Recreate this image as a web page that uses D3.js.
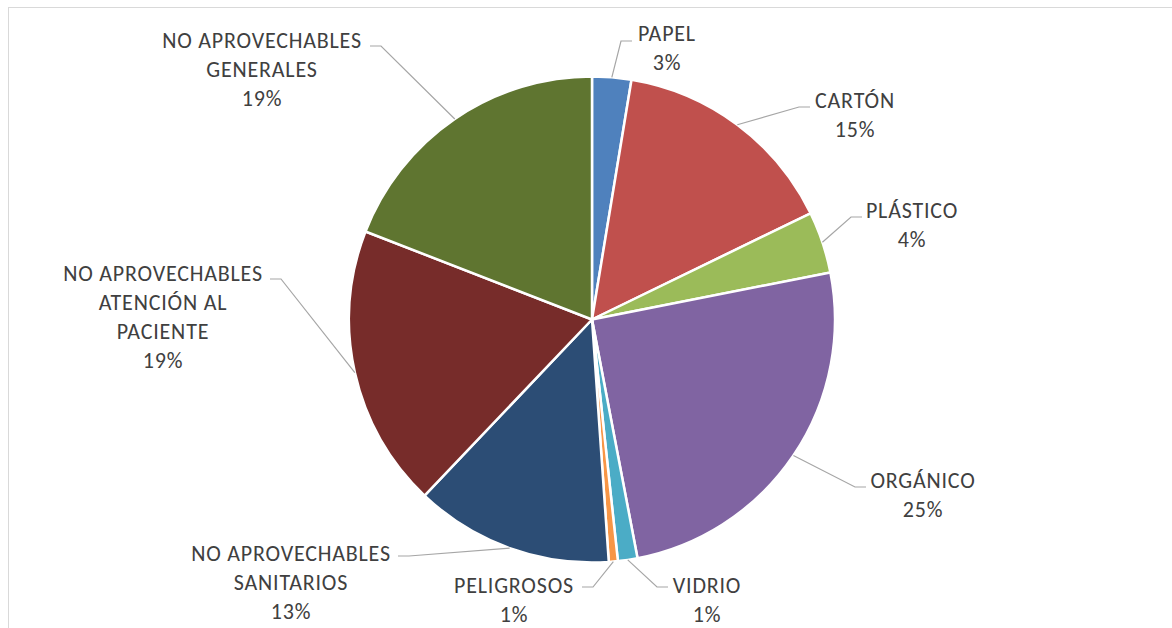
<!DOCTYPE html>
<html>
<head>
<meta charset="utf-8">
<script src="https://cdn.jsdelivr.net/npm/d3@7"></script>
<style>
  html, body { margin: 0; padding: 0; background: #fff; }
  svg { display: block; }
  text { font-family: Carlito, Calibri, Lato, sans-serif; }
</style>
</head>
<body>
<svg id="chart" width="1172" height="628"></svg>
<script>
// Waste composition (share of total, %)
const categories = [
  "PAPEL", "CARTÓN", "PLÁSTICO", "ORGÁNICO", "VIDRIO", "PELIGROSOS",
  "NO APROVECHABLES SANITARIOS",
  "NO APROVECHABLES ATENCIÓN AL PACIENTE",
  "NO APROVECHABLES GENERALES"
];
const values = [2.6, 15.2, 4.1, 25.1, 1.3, 0.6, 13.2, 18.8, 19.1];
// Wrapped label lines for each category
const labelLines = [
  ["PAPEL"], ["CARTÓN"], ["PLÁSTICO"], ["ORGÁNICO"], ["VIDRIO"], ["PELIGROSOS"],
  ["NO APROVECHABLES", "SANITARIOS"],
  ["NO APROVECHABLES", "ATENCIÓN AL", "PACIENTE"],
  ["NO APROVECHABLES", "GENERALES"]
];
const colors = ["#4F81BD", "#C0504D", "#9BBB59", "#8064A2", "#4BACC6",
                "#F79646", "#2C4D75", "#772C2A", "#5F7530"];

// Label placement: text centre x, first-line centre y, leader end point
const labelLayout = [
  { x: 667, y: 33,  ex: 632, ey: 41 },
  { x: 855, y: 100, ex: 810, ey: 107 },
  { x: 912, y: 210, ex: 862, ey: 217 },
  { x: 923, y: 480, ex: 866, ey: 487 },
  { x: 707, y: 585, ex: 668, ey: 587 },
  { x: 514, y: 585, ex: 582, ey: 587 },
  { x: 291, y: 553, ex: 398, ey: 556 },
  { x: 163, y: 273, ex: 270, ey: 279 },
  { x: 262, y: 40,  ex: 370, ey: 46 }
];

const svg = d3.select("#chart");
const W = 1172, H = 628;
const cx = 592, cy = 319.5, R = 243;
const lineH = 29;

// chart area frame
svg.append("rect")
  .attr("x", 8.5).attr("y", 7.5)
  .attr("width", W + 20).attr("height", H + 20)
  .attr("fill", "#fff")
  .attr("stroke", "#D9D9D9").attr("stroke-width", 1);

const total = d3.sum(values);
const data = categories.map((c, i) => ({ name: c, value: values[i], i }));

const pie = d3.pie().value(d => d.value).sort(null).startAngle(0).endAngle(2 * Math.PI);
const arcs = pie(data);
const arc = d3.arc().innerRadius(0).outerRadius(R);

const g = svg.append("g").attr("transform", `translate(${cx},${cy})`);

g.selectAll("path.slice")
  .data(arcs)
  .join("path")
  .attr("class", "slice")
  .attr("d", arc)
  .attr("fill", d => colors[d.data.i])
  .attr("stroke", "#fff")
  .attr("stroke-width", 2.5)
  .attr("stroke-linejoin", "round");

// leader lines: from slice edge at mid-angle, to a bend, then a short horizontal run
const leaders = svg.append("g");
arcs.forEach(d => {
  const L = labelLayout[d.data.i];
  const mid = (d.startAngle + d.endAngle) / 2;
  const sx = cx + R * Math.sin(mid);
  const sy = cy - R * Math.cos(mid);
  const dir = L.ex > sx ? 1 : -1;
  const bx = L.ex - dir * 11;
  leaders.append("polyline")
    .attr("points", `${sx},${sy} ${bx},${L.ey} ${L.ex},${L.ey}`)
    .attr("fill", "none")
    .attr("stroke", "#A6A6A6")
    .attr("stroke-width", 1.2);
});

// labels: category lines + percentage
const fmt = v => Math.round(v / total * 100) + "%";
const labels = svg.append("g")
  .attr("font-size", 22)
  .attr("letter-spacing", "0.8px")
  .attr("fill", "#404040")
  .attr("text-anchor", "middle");
arcs.forEach(d => {
  const L = labelLayout[d.data.i];
  const lines = labelLines[d.data.i].concat([fmt(d.data.value)]);
  const t = labels.append("text");
  lines.forEach((s, k) => {
    t.append("tspan")
      .attr("x", L.x)
      .attr("y", L.y + k * lineH)
      .attr("dy", "0.35em")
      .text(s);
  });
});
</script>
</body>
</html>
